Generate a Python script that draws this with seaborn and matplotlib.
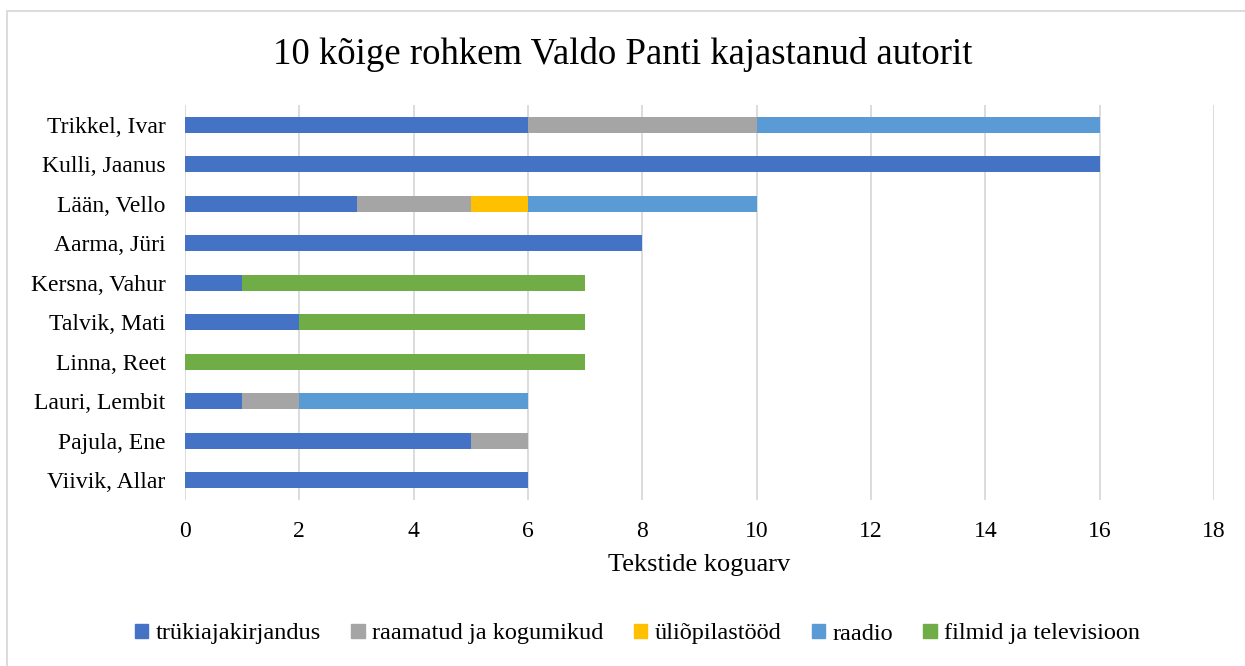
import matplotlib
matplotlib.use("Agg")
import matplotlib.pyplot as plt
import matplotlib.lines as mlines
import pandas as pd
import seaborn as sns

authors = ["Trikkel, Ivar", "Kulli, Jaanus", "Lään, Vello", "Aarma, Jüri", "Kersna, Vahur",
           "Talvik, Mati", "Linna, Reet", "Lauri, Lembit", "Pajula, Ene", "Viivik, Allar"]
categories = ["trükiajakirjandus", "raamatud ja kogumikud", "üliõpilastööd", "raadio",
              "filmid ja televisioon"]
trukiajakirjandus = [6, 16, 3, 8, 1, 2, 0, 1, 5, 6]
raamatud = [4, 0, 2, 0, 0, 0, 0, 1, 1, 0]
uliopilastood = [0, 0, 1, 0, 0, 0, 0, 0, 0, 0]
raadio = [6, 0, 4, 0, 0, 0, 0, 4, 0, 0]
filmid = [0, 0, 0, 0, 6, 5, 7, 0, 0, 0]
colors = ["#4472C4", "#A5A5A5", "#FFC000", "#5B9BD5", "#70AD47"]

sns.set_theme(style="white")
plt.rcParams["font.family"] = ["Liberation Serif", "DejaVu Serif"]
plt.rcParams.update({"text.color": "black", "axes.labelcolor": "black",
                     "xtick.color": "black", "ytick.color": "black"})

df = pd.DataFrame({"autor": authors, categories[0]: trukiajakirjandus, categories[1]: raamatud,
                   categories[2]: uliopilastood, categories[3]: raadio, categories[4]: filmid})
cum = df[categories].cumsum(axis=1)
cum["autor"] = df["autor"]

fig = plt.figure(figsize=(12.45, 6.66), dpi=100)
ax = fig.add_axes([185 / 1245, 1 - 500 / 666, (1214 - 185) / 1245, 395 / 666])

# stacked bars: draw cumulative totals from the last series backwards
for cat, col in reversed(list(zip(categories, colors))):
    sns.barplot(data=cum, y="autor", x=cat, color=col, orient="h", width=0.4,
                saturation=1, linewidth=0, ax=ax, zorder=2)

ax.set_xlim(0, 18)
ax.set_xticks(range(0, 19, 2))
ax.set_ylim(9.5, -0.5)
ax.grid(axis="x", color="#D9D9D9", linewidth=1.3, zorder=0)
for s in ax.spines.values():
    s.set_visible(False)
ax.tick_params(axis="x", length=0, pad=15, labelsize=17)
ax.tick_params(axis="y", length=0, pad=14, labelsize=17)
ax.set_ylabel("")
ax.set_xlabel("Tekstide koguarv", fontsize=19, labelpad=9)

fig.text(0.5, 1 - 55 / 666, "10 kõige rohkem Valdo Panti kajastanud autorit",
         ha="center", va="center", fontsize=26.5)

handles = [plt.Rectangle((0, 0), 1, 1, color=c) for c in colors]
fig.legend(handles, categories, loc="center", bbox_to_anchor=(0.512, 1 - 634 / 666), ncol=5,
           frameon=False, fontsize=17.5, handlelength=0.55, handleheight=0.55,
           handletextpad=0.3, columnspacing=1.25)

fig.add_artist(mlines.Line2D([7 / 1245, 7 / 1245], [0, 1 - 11 / 666], color="#D9D9D9", lw=1.3))
fig.add_artist(mlines.Line2D([7 / 1245, 1], [1 - 11 / 666, 1 - 11 / 666], color="#D9D9D9", lw=1.3))

fig.savefig("out.png", dpi=100)
